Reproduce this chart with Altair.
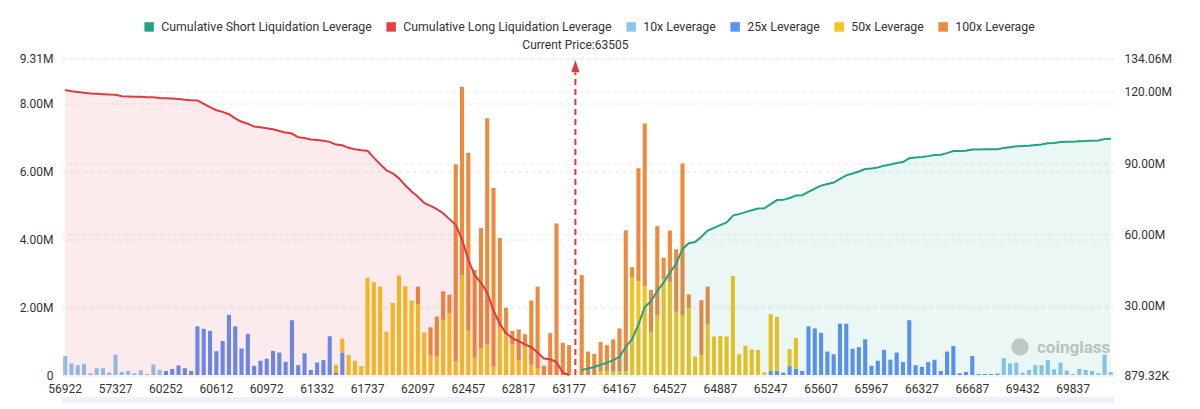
import altair as alt
import pandas as pd

# ---------------- data (values in millions) ----------------
x_labels = ["56922", "57327", "60252", "60612", "60972", "61332", "61737",
            "62097", "62457", "62817", "63177", "64167", "64527", "64887",
            "65247", "65607", "65967", "66327", "66687", "69432", "69837"]

lev10 = [
    0.56, 0.34, 0.29, 0.33, 0.05, 0.20, 0.20, 0.07, 0.60, 0.09,   # 1-10
    0.12, 0.05, 0.14, 0.03, 0.31, 0.15, 0, 0, 0, 0,               # 11-20
    0, 0, 0, 0, 0, 0, 0, 0, 0, 0,                                 # 21-30
    0, 0, 0, 0, 0, 0, 0, 0, 0, 0,                                 # 31-40
    0, 0, 0, 0, 0, 0, 0, 0, 0, 0,                                 # 41-50
    0, 0, 0, 0, 0, 0, 0, 0, 0, 0,                                 # 51-60
    0, 0, 0, 0, 0, 0, 0, 0, 0, 0,                                 # 61-70
    0, 0, 0, 0, 0, 0, 0, 0, 0, 0,                                 # 71-80
    0, 0, 0, 0, 0, 0, 0, 0, 0, 0,                                 # 81-90
    0, 0, 0, 0, 0, 0, 0, 0, 0, 0,                                 # 91-100
    0, 0, 0, 0, 0, 0, 0, 0, 0, 0,                                 # 101-110
    0, 0, 0, 0, 0, 0, 0, 0, 0, 0,                                 # 111-120
    0, 0, 0, 0, 0, 0, 0, 0, 0, 0,                                 # 121-130
    0, 0, 0, 0, 0, 0, 0, 0, 0, 0,                                 # 131-140
    0, 0, 0, 0, 0, 0, 0, 0, 0, 0.50,                              # 141-150
    0.34, 0.36, 0.07, 0.15, 0.29, 0.29, 0.44, 0.17, 0.36, 0.13,   # 151-160
    0.03, 0.18, 0.15, 0.12, 0.05, 0.60, 0.09,                     # 161-167
]

lev25 = [
    0, 0, 0, 0, 0, 0, 0, 0, 0, 0,
    0, 0, 0, 0, 0, 0, 0.12, 0.18, 0.28, 0.20,
    0.12, 1.43, 1.36, 1.30, 0.70, 1.00, 1.77, 1.43, 0.78, 1.21,
    0.27, 0.42, 0.48, 0.71, 0.66, 0.39, 1.61, 0.29, 0.64, 0.15,
    0.37, 0.44, 1.14, 0.06, 0.66, 0, 0, 0, 0, 0,
    0, 0, 0, 0, 0, 0, 0, 0, 0, 0,
    0, 0, 0, 0, 0, 0, 0, 0, 0, 0,
    0, 0, 0, 0, 0, 0, 0, 0, 0, 0,
    0, 0, 0, 0, 0, 0, 0, 0, 0, 0,
    0, 0, 0, 0, 0, 0, 0, 0, 0, 0,
    0, 0, 0, 0, 0, 0, 0, 0, 0, 0,
    0, 0, 0.12, 0.12, 0.07, 0.26, 0.19, 0.12, 1.43, 1.37,
    1.24, 0.69, 0.61, 1.51, 1.51, 0.77, 0.82, 1.05, 0.27, 0.42,
    0.74, 0.45, 0.66, 0.38, 1.61, 0.29, 0.24, 0.38, 0.45, 0.12,
    0.69, 0.85, 0.05, 0.09, 0.56, 0.03, 0.03, 0.03, 0.04, 0,
    0, 0, 0, 0, 0, 0, 0, 0, 0, 0,
    0, 0, 0, 0, 0, 0, 0,
]

lev50 = [
    0, 0, 0, 0, 0, 0, 0, 0, 0, 0,
    0, 0, 0, 0, 0, 0, 0, 0, 0, 0,
    0, 0, 0, 0, 0, 0, 0, 0, 0, 0,
    0, 0, 0, 0, 0, 0, 0, 0, 0, 0,
    0, 0, 0, 0.24, 0.41, 0.59, 0.42, 0.26, 2.86, 2.73,
    2.60, 1.27, 2.12, 2.93, 2.61, 2.19, 2.09, 1.25, 0.59, 0.54,
    1.62, 1.81, 0.41, 2.94, 1.30, 0.51, 0.79, 0.90, 0.25, 1.40,
    1.20, 0.90, 0.44, 0.83, 0.30, 0.20, 0, 0, 0, 0,
    0, 0, 0, 0, 0, 0.12, 0.12, 0.10, 0.10, 0.10,
    2.87, 2.76, 2.60, 1.27, 1.75, 2.81, 2.74, 1.86, 1.76, 1.96,
    0.54, 0.59, 1.50, 1.13, 1.15, 1.13, 2.91, 0.61, 0.86, 0.75,
    0.74, 0.08, 1.67, 1.59, 0, 0.50, 0.90, 0, 0, 0,
    0, 0, 0, 0, 0, 0, 0, 0, 0, 0,
    0, 0, 0, 0, 0, 0, 0, 0, 0, 0,
    0, 0, 0, 0, 0, 0, 0, 0, 0, 0,
    0, 0, 0, 0, 0, 0, 0, 0, 0, 0,
    0, 0, 0, 0, 0, 0, 0,
]

lev100 = [
    0, 0, 0, 0, 0, 0, 0, 0, 0, 0,
    0, 0, 0, 0, 0, 0, 0, 0, 0, 0,
    0, 0, 0, 0, 0, 0, 0, 0, 0, 0,
    0, 0, 0, 0, 0, 0, 0, 0, 0, 0,
    0, 0, 0, 0, 0, 0, 0, 0, 0, 0,
    0, 0, 0, 0, 0, 0, 0.51, 0, 0.81, 1.18,
    0.84, 0.55, 5.79, 5.54, 5.24, 2.58, 3.53, 6.65, 5.25, 2.63,
    0.78, 0.40, 0.90, 0.37, 1.89, 2.40, 0.27, 1.23, 4.46, 0.95,
    0.88, 0, 2.94, 0.69, 0.62, 0.85, 0.76, 0.95, 1.27, 4.16,
    0.30, 3.32, 4.80, 1.23, 2.63, 0.64, 1.51, 1.84, 4.46, 0.41,
    0, 1.61, 1.10, 0, 0, 0, 0, 0, 0, 0,
    0, 0, 0, 0, 0, 0, 0, 0, 0, 0,
    0, 0, 0, 0, 0, 0, 0, 0, 0, 0,
    0, 0, 0, 0, 0, 0, 0, 0, 0, 0,
    0, 0, 0, 0, 0, 0, 0, 0, 0, 0,
    0, 0, 0, 0, 0, 0, 0, 0, 0, 0,
    0, 0, 0, 0, 0, 0, 0,
]

current_price_label = "Current Price:63505"
current_idx = 81          # category slot of the current price
long_last_idx = 80        # last long-side category
short_first_idx = 82      # first short-side category

left_ticks = [0, 2, 4, 6, 8, 9.31]
right_ticks = [0.87932, 30, 60, 90, 120, 134.06]

names = ["Cumulative Short Liquidation Leverage", "Cumulative Long Liquidation Leverage",
         "10x Leverage", "25x Leverage", "50x Leverage", "100x Leverage"]
colors = ["#22a389", "#e5404a", "#8cc6ef", "#5e8ff5", "#f4c31e", "#ec8a3d"]
RED = "#df3a40"
TEAL = "#22a389"

# ---------------- tables ----------------
n = min(len(lev10), len(lev25), len(lev50), len(lev100))
series = [("10x Leverage", lev10), ("25x Leverage", lev25),
          ("50x Leverage", lev50), ("100x Leverage", lev100)]
rows = []
for k, (nm, arr) in enumerate(series):
    for i in range(n):
        rows.append({"i": i, "lev": nm, "v": arr[i], "ord": k})
bars_df = pd.DataFrame(rows)

tot = pd.Series([lev10[i] + lev25[i] + lev50[i] + lev100[i] for i in range(n)])
long_part = tot.iloc[: long_last_idx + 1]
long_cum = long_part[::-1].cumsum()[::-1]
red_df = pd.DataFrame({"i": list(range(long_last_idx + 1)), "cum": long_cum.values})
short_part = tot.iloc[short_first_idx:n]
green_df = pd.DataFrame({"i": list(range(short_first_idx, n)), "cum": short_part.cumsum().values})

ann_df = pd.DataFrame({"i": [current_idx], "y0": [0], "y1": [8.9], "ya": [9.08],
                       "ytop": [9.31], "label": [current_price_label]})

W, H = 1052, 316.5
FONT = "Roboto"

label_arr = "[" + ",".join("'" + s + "'" for s in x_labels) + "]"
x_axis = alt.Axis(values=list(range(0, n, 8)), labelExpr=label_arr + "[datum.value / 8]",
                  labelAngle=0, ticks=False, domain=False, grid=False, title=None,
                  labelFontSize=12, labelColor="#333333", labelPadding=8, labelFont=FONT)
x_scale = alt.Scale(domain=list(range(n)), paddingInner=0.35, paddingOuter=0.175)


def xenc():
    return alt.X("i:O", scale=x_scale, axis=x_axis)


left_scale = alt.Scale(domain=[0, 9.31], nice=False, zero=False)
left_axis = alt.Axis(values=left_ticks, orient="left", title=None, ticks=False, domain=False,
                     labelExpr="datum.value == 0 ? '0' : format(datum.value, '.2f') + 'M'",
                     grid=True, gridDash=[4, 3], gridColor="#e6e6e6", labelFontSize=12,
                     labelColor="#333333", labelPadding=9, labelFont=FONT)
right_scale = alt.Scale(domain=[0.87932, 134.06], nice=False, zero=False)
right_axis = alt.Axis(values=right_ticks, orient="right", title=None, ticks=False, domain=False,
                      labelExpr="datum.value < 1 ? '879.32K' : format(datum.value, '.2f') + 'M'",
                      grid=True, gridDash=[4, 3], gridColor="#ececec", labelFontSize=12,
                      labelColor="#333333", labelPadding=10, labelFont=FONT)

bars = alt.Chart(bars_df).mark_bar().encode(
    x=xenc(),
    y=alt.Y("v:Q", stack="zero", scale=left_scale, axis=left_axis),
    color=alt.Color("lev:N", scale=alt.Scale(domain=names, range=colors),
                    legend=alt.Legend(orient="none", legendX=81, legendY=-38,
                                      direction="horizontal", title=None,
                                      symbolType="square", symbolSize=90,
                                      symbolStrokeWidth=0, symbolOpacity=1,
                                      labelFontSize=12.3, labelFont=FONT,
                                      labelColor="#333333", columnPadding=13,
                                      labelOffset=6, labelLimit=0)),
    order=alt.Order("ord:Q"),
)

rule = alt.Chart(ann_df).mark_rule(color=RED, strokeDash=[6, 4], strokeWidth=2).encode(
    x=xenc(), y=alt.Y("y0:Q", scale=left_scale, axis=left_axis), y2="y1:Q")
arrow = alt.Chart(ann_df).mark_point(shape="M-0.7,1L0,-1L0.7,1Z", filled=True, size=144,
                                     color=RED, opacity=1, strokeWidth=0).encode(
    x=xenc(), y=alt.Y("ya:Q", scale=left_scale, axis=left_axis))
price_text = alt.Chart(ann_df).mark_text(baseline="bottom", dy=-7, fontSize=12, font=FONT,
                                         color="#333333").encode(
    x=xenc(), y=alt.Y("ytop:Q", scale=left_scale, axis=left_axis), text="label:N")

deco = pd.DataFrame({"t": ["coinglass"]})
slider = alt.Chart(deco).mark_rect(color="#eef1fb").encode(
    x=alt.value(0), x2=alt.value(W), y=alt.value(H + 22), y2=alt.value(H + 40))
watermark = alt.Chart(deco).mark_text(align="left", baseline="middle", fontSize=17,
                                      fontWeight="bold", font=FONT, color="#bdbdbd",
                                      opacity=0.85).encode(
    x=alt.value(975), y=alt.value(H - 27), text="t:N")
logo = alt.Chart(deco).mark_point(shape="circle", filled=True, size=300, color="#c4c4c4",
                                  opacity=0.85, strokeWidth=0).encode(
    x=alt.value(958), y=alt.value(H - 28))

left_group = alt.layer(slider, bars, rule, arrow, price_text, logo, watermark)

red_area = alt.Chart(red_df).mark_area(color=RED, opacity=0.1).encode(
    x=xenc(), y=alt.Y("cum:Q", scale=right_scale, axis=right_axis), y2=alt.datum(0.87932))
green_area = alt.Chart(green_df).mark_area(color=TEAL, opacity=0.09).encode(
    x=xenc(), y=alt.Y("cum:Q", scale=right_scale, axis=right_axis), y2=alt.datum(0.87932))
red_line = alt.Chart(red_df).mark_line(color=RED, strokeWidth=2).encode(
    x=xenc(), y=alt.Y("cum:Q", scale=right_scale, axis=right_axis))
green_line = alt.Chart(green_df).mark_line(color=TEAL, strokeWidth=2).encode(
    x=xenc(), y=alt.Y("cum:Q", scale=right_scale, axis=right_axis))

right_group = alt.layer(red_area, green_area, red_line, green_line)

chart = alt.layer(left_group, right_group).resolve_scale(y="independent").properties(
    width=W, height=H,
    autosize=alt.AutoSizeParams(type="none"),
    padding={"left": 54, "top": 50.5, "right": 70, "bottom": 28},
    background="white",
).configure_view(stroke=None)

chart.save("out.html", embed_options={"renderer": "svg", "actions": False})
